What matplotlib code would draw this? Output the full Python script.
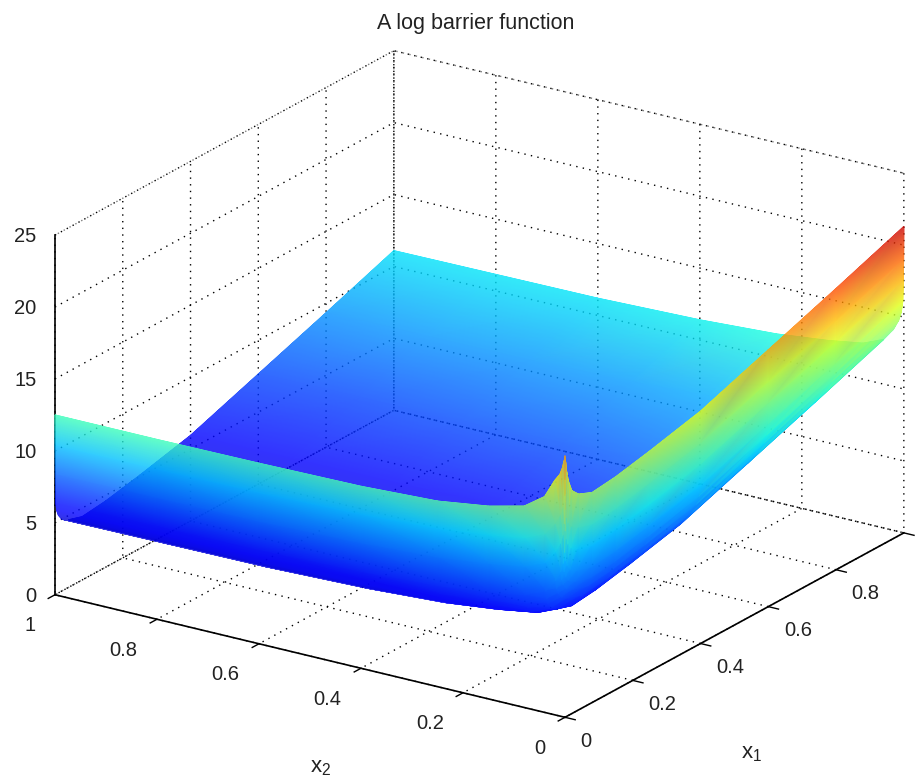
import numpy as np
import matplotlib
matplotlib.use('Agg')
import matplotlib.pyplot as plt
from matplotlib.colors import FuncNorm
from mpl_toolkits.mplot3d import proj3d

plt.rcParams['font.family'] = ['Liberation Sans', 'DejaVu Sans']
plt.rcParams['mathtext.fontset'] = 'custom'
plt.rcParams['mathtext.rm'] = 'Liberation Sans'

# grid levels, packed towards the barrier walls
x1_levels = [0, .0004, .001, .002, .005, .01, .02, .04, .08, .15, .25, .4, .6, .8, 1]
x2_levels = [0, .0004, .001, .002, .005, .01, .02, .04, .08, .15, .25, .4, .6, .8, 1]

# heights, rows are x1, columns are x2
z_table = [
    [18.2, 18.0, 17.9, 17.8, 17.3, 16.8, 16.3, 15.0, 14.0, 13.4, 12.9, 12.65, 12.55, 12.5, 12.5],
    [18.0, 16.5, 15.4, 15.4, 14.6, 14.0, 13.3, 12.4, 11.8, 11.4, 11.0, 10.7, 10.5, 10.45, 10.4],
    [17.9, 15.5, 14.9, 13.4, 12.6, 12.0, 11.3, 10.4, 9.8, 9.4, 9.0, 8.7, 8.5, 8.45, 8.4],
    [17.7, 14.4, 12.9, 11.4, 10.6, 10.0, 9.3, 8.4, 7.8, 7.4, 7.0, 6.7, 6.5, 6.45, 6.4],
    [17.0, 13.8, 12.3, 10.8, 10.0, 9.4, 8.7, 7.8, 7.2, 6.8, 6.4, 6.1, 5.9, 5.85, 5.8],
    [16.3, 13.4, 11.9, 10.4, 9.6, 9.0, 8.3, 7.4, 6.8, 6.4, 6.0, 5.7, 5.5, 5.45, 5.4],
    [15.5, 13.0, 11.5, 10.0, 9.2, 8.6, 7.9, 7.0, 6.4, 6.0, 5.6, 5.3, 5.1, 5.05, 5.0],
    [15.0, 12.7, 11.2, 9.7, 8.9, 8.3, 7.6, 6.7, 6.1, 5.7, 5.3, 5.0, 4.8, 4.75, 4.7],
    [14.6, 12.4, 10.9, 9.4, 8.6, 8.0, 7.3, 6.4, 5.8, 5.4, 5.0, 4.7, 4.5, 4.45, 4.4],
    [14.8, 12.6, 11.1, 9.6, 8.8, 8.2, 7.5, 6.6, 6.0, 5.6, 5.2, 4.9, 4.7, 4.65, 4.6],
    [15.3, 13.1, 11.6, 10.1, 9.3, 8.7, 8.0, 7.1, 6.5, 6.1, 5.7, 5.4, 5.2, 5.15, 5.1],
    [16.15, 13.95, 12.45, 10.95, 10.15, 9.55, 8.85, 7.95, 7.35, 6.95, 6.55, 6.25, 6.05, 6.0, 5.95],
    [17.85, 15.65, 14.15, 12.65, 11.85, 11.25, 10.55, 9.65, 9.05, 8.65, 8.25, 7.95, 7.75, 7.7, 7.65],
    [19.55, 17.35, 15.85, 14.35, 13.55, 12.95, 12.25, 11.35, 10.75, 10.35, 9.95, 9.65, 9.45, 9.4, 9.35],
    [21.3, 19.1, 17.6, 16.1, 15.3, 14.7, 14.0, 13.1, 12.5, 12.1, 11.7, 11.4, 11.2, 11.15, 11.1],
]

x1_ticks = [0, .2, .4, .6, .8, 1]
x1_labels = ['0', '0.2', '0.4', '0.6', '0.8', '']
x2_ticks = [0, .2, .4, .6, .8, 1]
x2_labels = ['0', '0.2', '0.4', '0.6', '0.8', '1']
z_ticks = [0, 5, 10, 15, 20, 25]
z_labels = ['0', '5', '10', '15', '20', '25']

# height to position on the jet map, matched by eye
colour_z = [0, 4.4, 11.1, 22, 25]
colour_pos = [0, .05, .345, .97, 1]

fig = plt.figure(figsize=(9.22, 7.83), dpi=100)
ax = fig.add_axes([55 / 922, 37.5 / 783, 0.9, 704 / 783], projection='3d')
ax.set_proj_type('ortho')
ax.view_init(elev=21.2, azim=-146.4)
ax.set_xlim(0, 1)
ax.set_ylim(0, 1)
ax.set_zlim(0, 25)
aspect = (1, 1, 0.63)
ax.set_box_aspect(aspect)

ax.set_xticks(x1_ticks)
ax.set_xticklabels(x1_labels, va='top', ha='left')
ax.set_yticks(x2_ticks)
ax.set_yticklabels(x2_labels, va='center', ha='right')
ax.set_zticks(z_ticks)
ax.set_zticklabels(z_labels, va='center', ha='right')
ax.tick_params(labelsize=14.5, labelcolor='#222222')
ax.tick_params(axis='x', pad=0)
ax.tick_params(axis='y', pad=7)
ax.tick_params(axis='z', pad=-2.3)

for axis in (ax.xaxis, ax.yaxis, ax.zaxis):
    axis.pane.set_facecolor('white')
    axis.pane.set_edgecolor('black')
    axis.pane.set_linestyle((0, (1, 3.8)))
    axis.pane.set_linewidth(1.0)
    axis.line.set_color('black')
    axis.line.set_linewidth(1.2)
    axis._axinfo['grid'].update(color='black', linestyle=(0, (1, 3.8)), linewidth=1.0)
    axis._axinfo['tick'].update(inward_factor=0.25, outward_factor=0.0)
    axis._axinfo['tick']['linewidth'] = {True: 1.0, False: 1.0}
ax.zaxis._axinfo['tick'].update(inward_factor=0.0, outward_factor=0.0)
ax.zaxis.set_ticks_position('upper')

# z ticks run along x2 in the original, mplot3d would send them along x1
for z in z_ticks:
    ax.plot([0, 0], [1, 1.02], [z, z], color='black', lw=1.0)
ax.set_xlim(0, 1)
ax.set_ylim(0, 1)
ax.set_zlim(0, 25)

# box size: x2 axis has to span 510 px on screen
fig.canvas.draw()
a = ax.transData.transform(proj3d.proj_transform(0, 0, 0, ax.M)[:2])
b = ax.transData.transform(proj3d.proj_transform(0, 1, 0, ax.M)[:2])
ax.set_box_aspect(aspect, zoom=510 / abs(a[0] - b[0]))
fig.canvas.draw()


def see_through(img, dpi):
    # one flat alpha per sheet, hides the seams between gouraud triangles
    out = img.copy()
    out[..., 3] = np.minimum(out[..., 3] * 1.6, 1.0) * 0.8
    return out, 0, 0


over = fig.add_axes([0, 0, 1, 1])
over.set_xlim(0, 922)
over.set_ylim(0, 783)
over.axis('off')

x1_grid, x2_grid = np.meshgrid(x1_levels, x2_levels, indexing='ij')
z_grid = np.array(z_table)
sx, sy, _ = proj3d.proj_transform(x1_grid.ravel(), x2_grid.ravel(), z_grid.ravel(), ax.M)
screen = ax.transData.transform(np.column_stack([sx, sy]))

# back to front; the plateau is one sheet, the two walls another
n1, n2 = z_grid.shape
plateau = []
walls = []
for i in range(n1 - 2, -1, -1):
    for j in range(n2 - 2, -1, -1):
        p = i * n2 + j
        cell = [[p, p + 1, p + n2], [p + 1, p + n2 + 1, p + n2]]
        if i >= 7 and j >= 7:
            plateau += cell
        else:
            walls += cell

norm = FuncNorm((lambda v: np.interp(v, colour_z, colour_pos),
                 lambda v: np.interp(v, colour_pos, colour_z)), vmin=0, vmax=25)
for tris in (plateau, walls):
    mesh = over.tripcolor(screen[:, 0], screen[:, 1], tris, z_grid.ravel(),
                          shading='gouraud', cmap='jet', norm=norm)
    mesh.set_agg_filter(see_through)
over.set_xlim(0, 922)
over.set_ylim(0, 783)

over.text(476, 759, 'A log barrier function', ha='center', va='center', fontsize=15.5, color='#222222')
over.text(752, 30, '$\\mathrm{x_1}$', ha='center', va='center', fontsize=16, color='#222222')
over.text(321, 15, '$\\mathrm{x_2}$', ha='center', va='center', fontsize=16, color='#222222')

fig.savefig('out.png', dpi=100)
